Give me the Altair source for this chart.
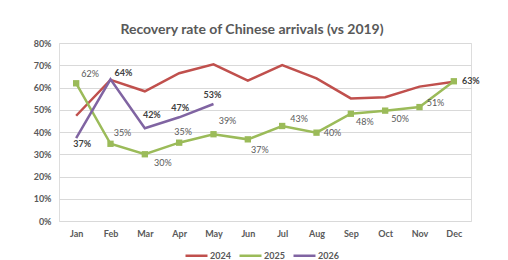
import altair as alt
import pandas as pd

months = ["Jan", "Feb", "Mar", "Apr", "May", "Jun", "Jul", "Aug", "Sep", "Oct", "Nov", "Dec"]
series = ["2024", "2025", "2026"]
rate_2024 = [0.473, 0.634, 0.583, 0.664, 0.704, 0.631, 0.701, 0.641, 0.551, 0.556, 0.604, 0.626]
rate_2025 = [0.619, 0.347, 0.300, 0.352, 0.390, 0.367, 0.427, 0.397, 0.482, 0.496, 0.512, 0.628]
rate_2026 = [0.372, 0.637, 0.417, 0.466, 0.526]
y_ticks = [0.0, 0.1, 0.2, 0.3, 0.4, 0.5, 0.6, 0.7, 0.8]
colors = ["#C0504D", "#9BBB59", "#8064A2"]

# label offsets (style config, pixels)
OFF_2025 = {"Jan": (14, -9), "Feb": (12, -11), "Mar": (18, 9), "Apr": (4, -11),
            "May": (14, -13), "Jun": (12, 11), "Jul": (17, -7), "Aug": (16, 0),
            "Sep": (14, 8), "Oct": (15, 8), "Nov": (16, -4)}
OFF_2025_BOLD = {"Dec": (17, 0)}
OFF_2026 = {"Jan": (6, 6), "Feb": (13, -6), "Mar": (7, -13), "Apr": (1, -9), "May": (-1, -9)}

rows = []
for s, vals in zip(series, [rate_2024, rate_2025, rate_2026]):
    for m, v in zip(months, vals):
        rows.append({"month": m, "series": s, "rate": v})
df = pd.DataFrame(rows)

FONT = "Lato"
LBL = 9
x_enc = alt.X("month:N", sort=months, scale=alt.Scale(type="point", padding=0.5),
              axis=alt.Axis(title=None, domain=False, ticks=False, labelAngle=0,
                            labelPadding=8, labelFont=FONT, labelFontSize=LBL,
                            labelFontWeight="bold", labelColor="#595959", grid=False))
y_enc = alt.Y("rate:Q", scale=alt.Scale(domain=[0, 0.8], nice=False),
              axis=alt.Axis(title=None, format=".0%", values=y_ticks,
                            domain=False, ticks=False, labelPadding=8, labelFont=FONT,
                            labelFontSize=LBL, labelFontWeight="bold", labelColor="#595959",
                            grid=True, gridColor="#d9d9d9", gridWidth=1))

base = alt.Chart(df)

lines = base.mark_line(strokeWidth=2.5).encode(
    x=x_enc, y=y_enc,
    color=alt.Color("series:N", scale=alt.Scale(domain=series, range=colors),
                    legend=alt.Legend(title=None, orient="none", direction="horizontal",
                                      legendX=125, legendY=200, symbolType="stroke",
                                      symbolSize=484, symbolStrokeWidth=2.5,
                                      labelFont=FONT, labelFontSize=LBL, labelFontWeight="bold",
                                      labelColor="#595959", labelOffset=1,
                                      columnPadding=3, padding=0)),
)

squares = base.transform_filter(alt.datum.series == "2025").mark_square(
    size=40, opacity=1, filled=True, color=colors[1]
).encode(x=x_enc, y=y_enc)

layers = [lines, squares]


def label_layer(s, m, dx, dy, bold, color):
    return base.transform_filter(
        (alt.datum.series == s) & (alt.datum.month == m)
    ).mark_text(dx=dx, dy=dy, align="center", baseline="middle", font=FONT,
                fontSize=LBL, fontWeight="bold" if bold else "normal", color=color).encode(
        x=x_enc, y=y_enc,
        text=alt.Text("rate:Q", format=".0%"))


for m, (dx, dy) in OFF_2025.items():
    layers.append(label_layer("2025", m, dx, dy, False, "#595959"))
for m, (dx, dy) in OFF_2025_BOLD.items():
    layers.append(label_layer("2025", m, dx, dy, True, "#404040"))
for m, (dx, dy) in OFF_2026.items():
    layers.append(label_layer("2026", m, dx, dy, True, "#404040"))

chart = alt.layer(*layers).properties(
    width=412, height=178,
    title=alt.TitleParams("Recovery rate of Chinese arrivals (vs 2019)", font=FONT,
                          fontSize=14, fontWeight="bold", color="#595959",
                          anchor="middle", dx=-13, offset=2),
    autosize=alt.AutoSizeParams(type="none"),
    padding={"left": 51, "top": 35, "right": 29, "bottom": 39},
).configure_view(stroke=None).configure(background="white")

chart.save("out.html", embed_options={"renderer": "svg", "actions": False})
